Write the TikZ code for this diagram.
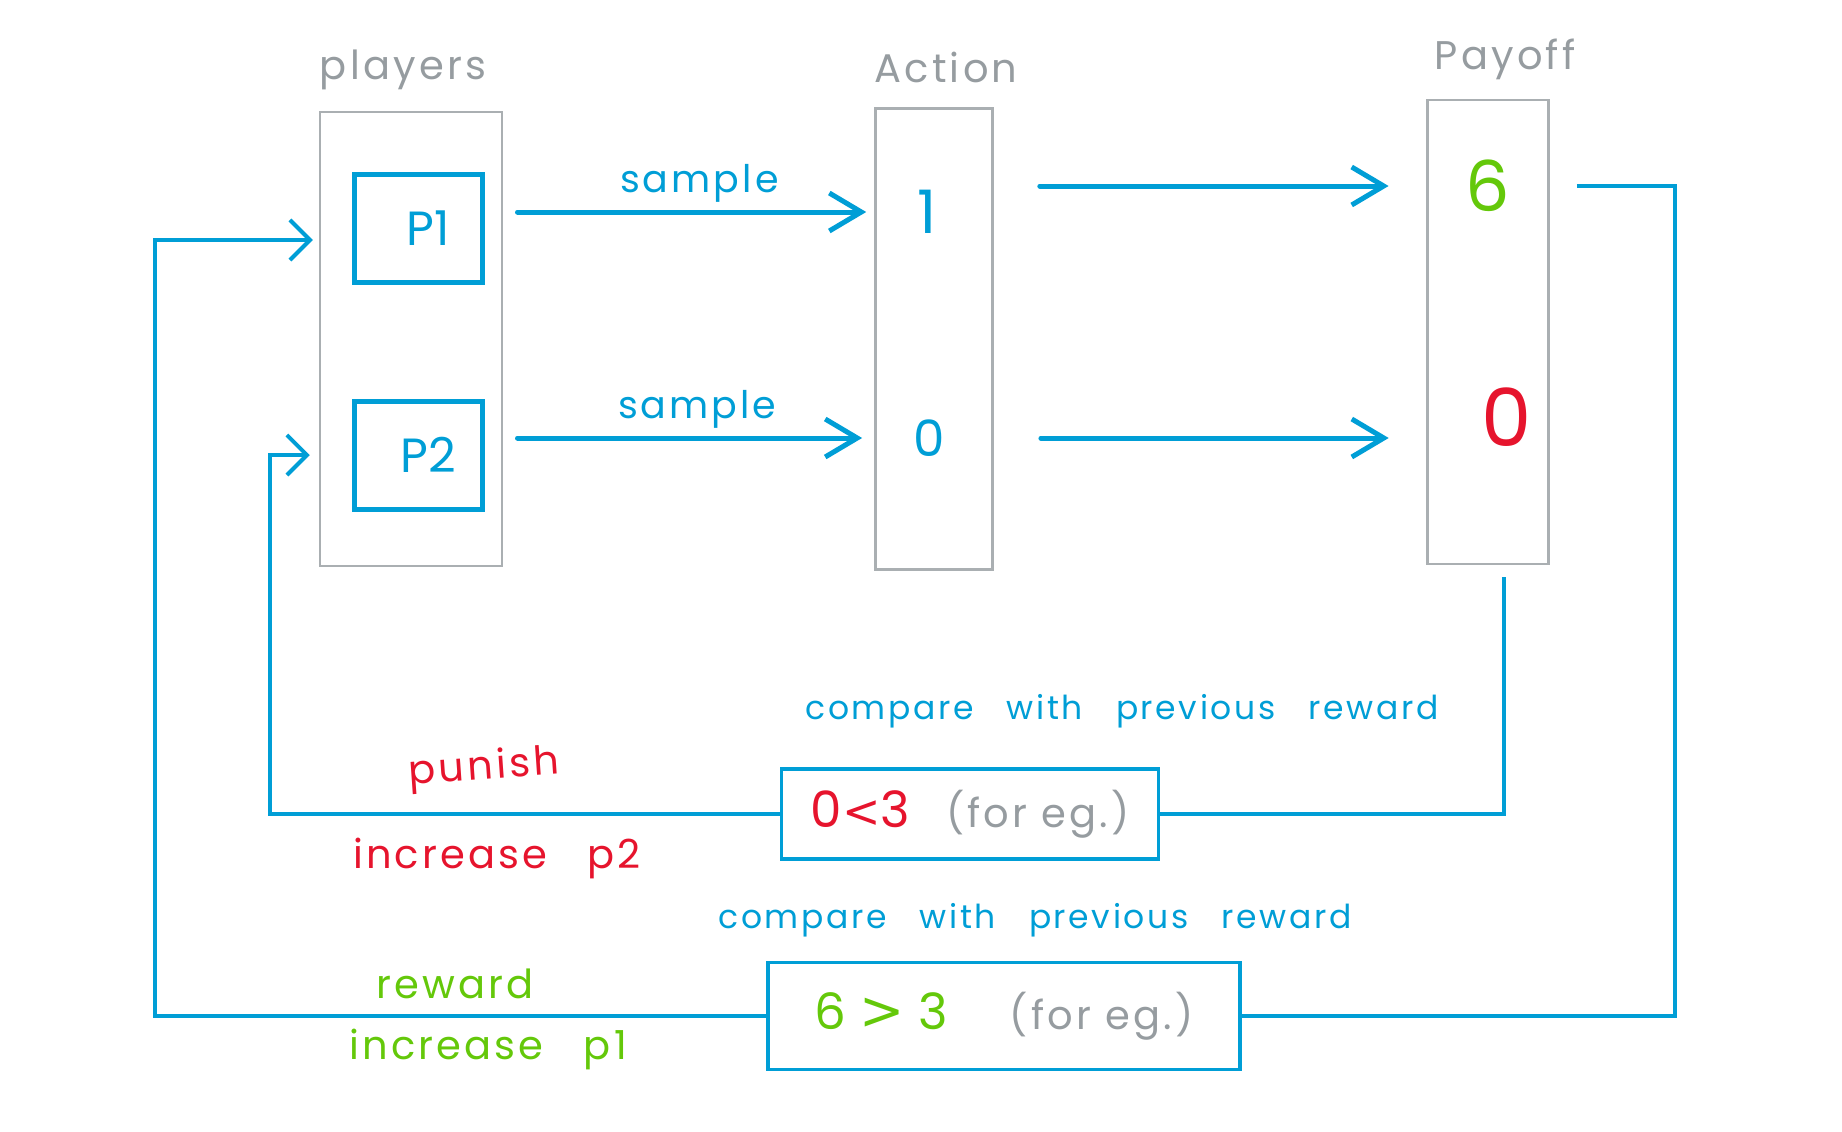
\documentclass[tikz,border=0pt]{standalone}
\usepackage{fontspec}
\setmainfont{Poppins}
\newfontfamily\hand[LetterSpace=8]{Poppins}
\newfontfamily\symfont{DejaVu Sans}
\usepackage{tikz}
\usetikzlibrary{arrows.meta,positioning}
\definecolor{sketchblue}{RGB}{0,158,214}
\definecolor{sketchgreen}{RGB}{100,200,10}
\definecolor{sketchred}{RGB}{230,20,45}
\definecolor{sketchgrey}{RGB}{150,156,160}
\definecolor{boxgrey}{RGB}{170,175,178}
\newcommand{\fs}[1]{\fontsize{#1}{#1}\selectfont}

\begin{document}
\begin{tikzpicture}[x=1pt,y=-1pt,
    flow/.style={-{Straight Barb[length=32pt,width=38pt]},draw=sketchblue,
      line width=5pt,line cap=round},
    back/.style={-{Straight Barb[length=20pt,width=40pt]},draw=sketchblue,
      line width=4pt,line cap=round},
    wire/.style={draw=sketchblue,line width=3.5pt},
    colbox/.style={draw=boxgrey,line width=2.5pt},
    colhead/.style={text=sketchgrey,font=\hand\fs{40}},
    pbox/.style={draw=sketchblue,line width=5pt,text=sketchblue,font=\fs{48},
      minimum width=128pt,minimum height=108pt},
    cmpbox/.style={draw=sketchblue,line width=3.5pt,font=\fs{50}},
    num/.style={font=\fs{60},inner sep=3pt},
    lbl/.style={text=sketchblue,font=\hand\fs{38}},
    note/.style={text=sketchblue,font=\hand\fs{33}},
    redlbl/.style={text=sketchred,font=\hand\fs{40}},
    greenlbl/.style={text=sketchgreen,font=\hand\fs{40}}
  ]
    \useasboundingbox (0,0) rectangle (1842,1132);

    \node[colbox,minimum width=182pt,minimum height=454pt] (players) at (411,339) {};
    \node[colhead] (playershead) at (403,70) {players};
    \node[pbox] (p1) at (418,228) {\hspace*{20pt}P1};
    \node[pbox] (p2) at (418,455) {\hspace*{20pt}P2};

    \node[colbox,minimum width=117pt,minimum height=461pt] (action) at (934,339) {};
    \node[colhead] (actionhead) at (946,67) {Action};
    \node[num,text=sketchblue] (act1) at (927,212) {1};
    \node[num,text=sketchblue,font=\fs{50}] (act0) at (929,438) {0};

    \node[colbox,minimum width=121pt,minimum height=464pt] (payoff) at (1488,332) {};
    \node[colhead] (payoffhead) at (1505,59) {Payoff};
    \node[num,text=sketchgreen,font=\fs{70}] (pay6) at (1488,186) {6};
    \node[num,text=sketchred,font=\fs{80}] (pay0) at (1507,417) {0};

    \node[cmpbox,minimum width=377pt,minimum height=90pt] (cmp1) at (970,814)
      {\textcolor{sketchred}{0{\symfont\fs{46}<}3}\hspace{36pt}{\hand\fs{40}\textcolor{sketchgrey}{(for eg.)}}};
    \node[cmpbox,minimum width=472pt,minimum height=107pt] (cmp2) at (1004,1016)
      {\textcolor{sketchgreen}{6 {\symfont\fs{54}>} 3}\hspace{62pt}{\hand\fs{40}\textcolor{sketchgrey}{(for eg.)}}};
    \node[note] (cmp1note) at (1122,711) {compare\quad with\quad previous\quad reward};
    \node[note] (cmp2note) at (1035,920) {compare\quad with\quad previous\quad reward};

    % players -> actions -> payoffs
    \draw[flow,shorten <=33pt,shorten >=48pt] (p1.east |- act1) -- (act1)
      node[lbl,midway,above=4pt] (sample1) {sample};
    \draw[flow,shorten <=33pt,shorten >=48pt] (p2.east |- act0) -- (act0)
      node[lbl,midway,above=4pt] (sample2) {sample};
    \draw[flow,shorten <=100pt,shorten >=74pt] (act1.east |- pay6) -- (pay6);
    \draw[flow,shorten <=93pt,shorten >=90pt] (act0.east) -- (act0.east -| pay0.west);

    % feedback loops
    \draw[wire] ([xshift=16pt,yshift=-12pt]payoff.south) |- (cmp1.east);
    \draw[back] (cmp1.west) -| ([xshift=-49pt]players.west |- p2)
      -- ([xshift=-9pt]players.west |- p2);
    \draw[wire] ([xshift=27pt]payoff.east |- pay6) -- ++(98,0) |- (cmp2.east);
    \draw[back] (cmp2.west) -| ([xshift=-164pt,yshift=-12pt]players.west |- p1)
      -- ([xshift=-6pt,yshift=-12pt]players.west |- p1);

    \node[redlbl,rotate=4] (punish) at (484,769) {punish};
    \node[redlbl] (incp2) at (497,858) {increase\quad p2};
    \node[greenlbl] (reward) at (455,984) {reward};
    \node[greenlbl] (incp1) at (488,1049) {increase\quad p1};
  \end{tikzpicture}
\end{document}
